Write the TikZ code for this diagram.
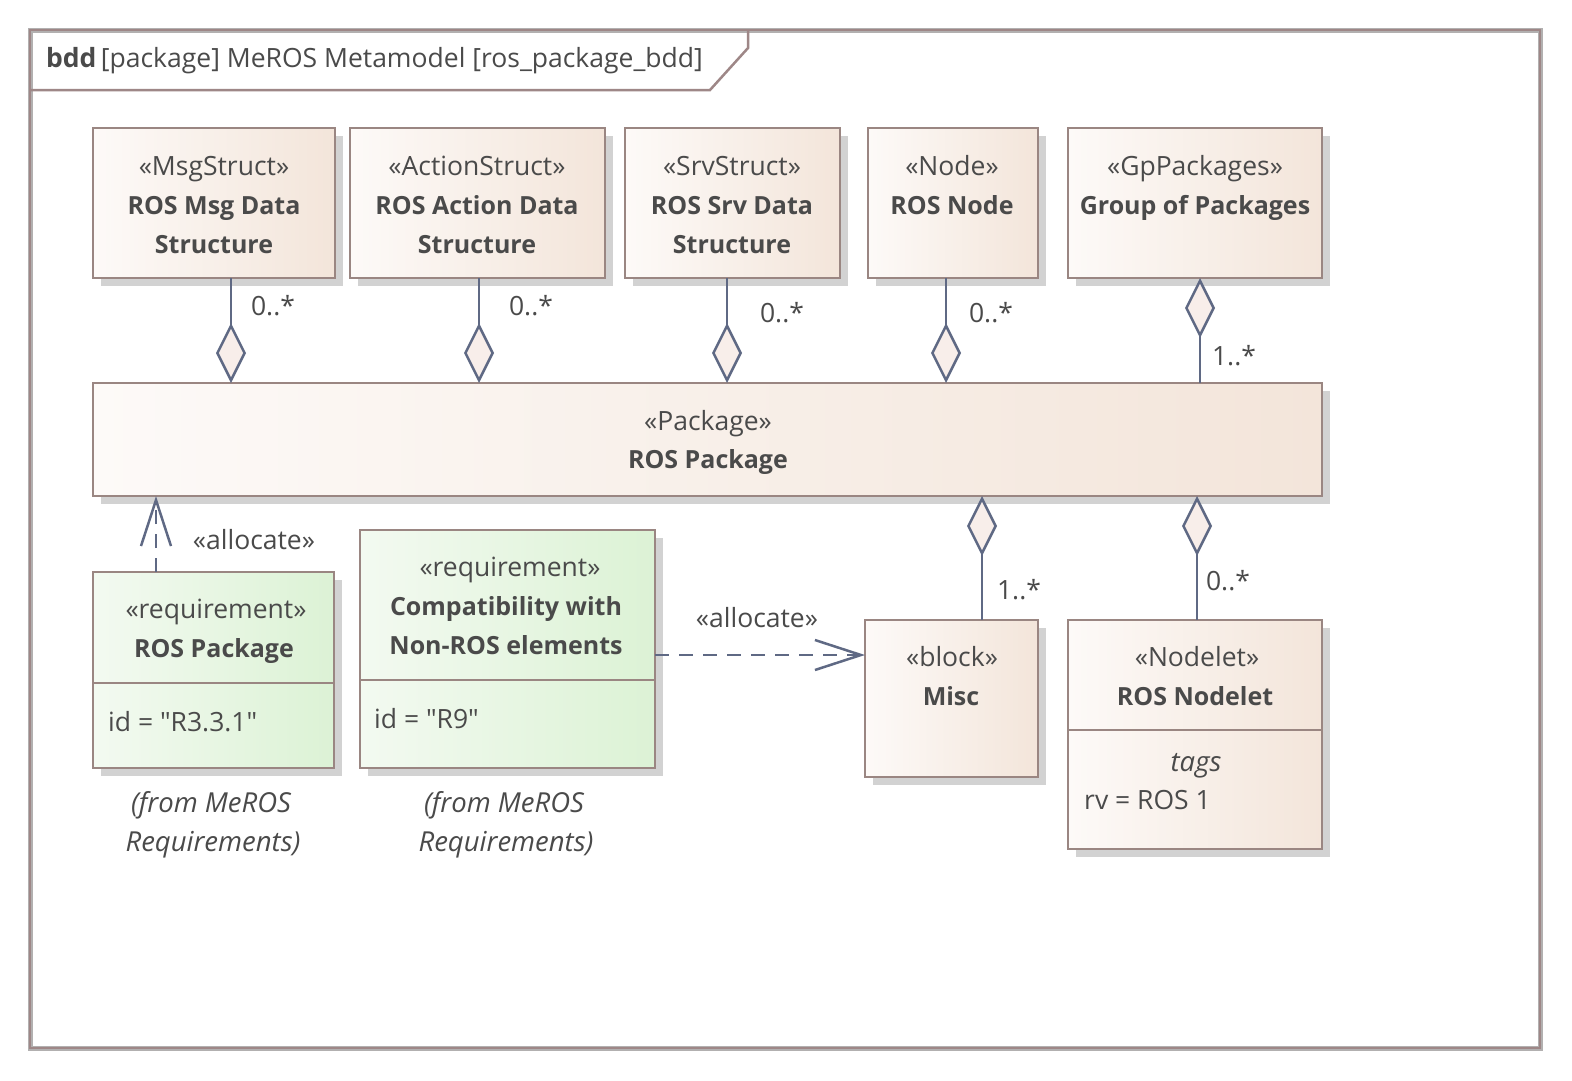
\documentclass[tikz,border=0pt]{standalone}
\usepackage{fontspec}
\setmainfont{Open Sans}
\usetikzlibrary{shadows,arrows.meta}
\definecolor{bordc}{HTML}{9A8682}
\definecolor{framec}{HTML}{9E8787}
\definecolor{frameg}{HTML}{B2B0B0}
\definecolor{connc}{HTML}{5F6984}
\definecolor{txtc}{HTML}{4A4A4A}
\definecolor{begl}{HTML}{FDFAF8}
\definecolor{begr}{HTML}{F3E5DA}
\definecolor{grl}{HTML}{F3FAF1}
\definecolor{grr}{HTML}{DCF2D5}
\definecolor{dfill}{HTML}{F8EEEA}
\definecolor{shadc}{HTML}{D2D2D2}
\begin{document}
\begin{tikzpicture}[x=1pt,y=-1pt,
  box/.style={draw=bordc, line width=2.5pt, left color=begl, right color=begr,
    drop shadow={shadow xshift=8pt, shadow yshift=-8pt, fill=shadc, opacity=1},
    inner sep=0pt, outer sep=0pt, anchor=north west},
  gbox/.style={box, left color=grl, right color=grr},
  txt/.style={font=\fontsize{26.5}{30}\selectfont, text=txtc, inner sep=0pt, anchor=base},
  btxt/.style={txt, font=\fontsize{25}{30}\selectfont\bfseries},
  itxt/.style={txt, font=\fontsize{27.5}{30}\selectfont\itshape},
  conn/.style={draw=connc, line width=2.5pt},
  agg/.style={conn, -{Diamond[length=60pt,width=30pt,fill=dfill,line join=miter]}},
  aggs/.style={conn, {Diamond[length=60pt,width=30pt,fill=dfill,line join=miter]}-},
  alloc/.style={conn, dash pattern=on 14pt off 10pt, -{Straight Barb[length=46pt,width=30pt,line width=2.5pt]}},
  cline/.style={draw=bordc, line width=2.5pt}
]
\fill[white] (0,0) rectangle (1572,1080);
% frame
\draw[frameg, line width=5pt] (30,30) rectangle (1540,1048);
\draw[framec, line width=2.5pt] (30,30) rectangle (1540,1048);
\draw[framec, line width=2.5pt] (31,90) -- (710,90) -- (748,48) -- (748,31);
\node[txt, anchor=base west] (title) at (46,67) {\textbf{bdd}\,[package] MeROS Metamodel [ros\_package\_bdd]};

% top boxes
\node[box, minimum width=242pt, minimum height=150pt] (msg) at (93,128) {};
\node[txt] (msgs) at (214,175) {«MsgStruct»};
\node[btxt] (msgn1) at (214,214) {ROS Msg Data};
\node[btxt] (msgn2) at (214,253) {Structure};

\node[box, minimum width=255pt, minimum height=150pt] (act) at (350,128) {};
\node[txt] (acts) at (477,175) {«ActionStruct»};
\node[btxt] (actn1) at (477,214) {ROS Action Data};
\node[btxt] (actn2) at (477,253) {Structure};

\node[box, minimum width=215pt, minimum height=150pt] (srv) at (625,128) {};
\node[txt] (srvs) at (732,175) {«SrvStruct»};
\node[btxt] (srvn1) at (732,214) {ROS Srv Data};
\node[btxt] (srvn2) at (732,253) {Structure};

\node[box, minimum width=170pt, minimum height=150pt] (rnode) at (868,128) {};
\node[txt] (rnodes) at (952,175) {«Node»};
\node[btxt] (rnoden) at (952,214) {ROS Node};

\node[box, minimum width=254pt, minimum height=150pt] (gp) at (1068,128) {};
\node[txt] (gps) at (1195,175) {«GpPackages»};
\node[btxt] (gpn) at (1195,214) {Group of Packages};

% package
\node[box, minimum width=1229pt, minimum height=113pt] (pkg) at (93,383) {};
\node[txt] (pkgs) at (708,430) {«Package»};
\node[btxt] (pkgn) at (708,468) {ROS Package};

% requirement 1
\node[gbox, minimum width=241pt, minimum height=196pt] (req1) at (93,572) {};
\draw[cline] (93,683) -- (334,683);
\node[txt] (req1s) at (216,618) {«requirement»};
\node[btxt] (req1n) at (214,657) {ROS Package};
\node[txt, anchor=base west] (req1id) at (108,731) {id = \textquotedbl R3.3.1\textquotedbl};
\node[itxt] (req1f1) at (211,812) {(from MeROS};
\node[itxt] (req1f2) at (213,851) {Requirements)};

% requirement 2
\node[gbox, minimum width=295pt, minimum height=238pt] (req2) at (360,530) {};
\draw[cline] (360,680) -- (655,680);
\node[txt] (req2s) at (510,576) {«requirement»};
\node[btxt] (req2n1) at (506,615) {Compatibility with};
\node[btxt] (req2n2) at (506,654) {Non-ROS elements};
\node[txt, anchor=base west] (req2id) at (374,728) {id = \textquotedbl R9\textquotedbl};
\node[itxt] (req2f1) at (504,812) {(from MeROS};
\node[itxt] (req2f2) at (506,851) {Requirements)};

% misc
\node[box, minimum width=173pt, minimum height=157pt] (misc) at (865,620) {};
\node[txt] (miscs) at (952,666) {«block»};
\node[btxt] (miscn) at (951,705) {Misc};

% nodelet
\node[box, minimum width=254pt, minimum height=229pt] (nlet) at (1068,620) {};
\draw[cline] (1068,730) -- (1322,730);
\node[txt] (nlets) at (1197,666) {«Nodelet»};
\node[btxt] (nletn) at (1195,705) {ROS Nodelet};
\node[itxt] (nlett) at (1196,771) {tags};
\node[txt, anchor=base west] (nletrv) at (1084,809) {rv = ROS 1};

% connector x positions
\coordinate (c1) at (231,0);
\coordinate (c2) at (479,0);
\coordinate (c3) at (727,0);
\coordinate (c4) at (946,0);
\coordinate (c5) at (1200,0);
\coordinate (c6) at (982,0);
\coordinate (c7) at (1197,0);
\coordinate (c8) at (156,0);
\coordinate (c9) at (0,655);

\draw[agg] (msg.south -| c1) -- (pkg.north -| c1);
\draw[agg] (act.south -| c2) -- (pkg.north -| c2);
\draw[agg] (srv.south -| c3) -- (pkg.north -| c3);
\draw[agg] (rnode.south -| c4) -- (pkg.north -| c4);
\draw[aggs] (gp.south -| c5) -- (pkg.north -| c5);
\draw[agg] (misc.north -| c6) -- (pkg.south -| c6);
\draw[agg] (nlet.north -| c7) -- (pkg.south -| c7);

\node[txt] (m1) at (273,315) {0..*};
\node[txt] (m2) at (531,315) {0..*};
\node[txt] (m3) at (782,322) {0..*};
\node[txt] (m4) at (991,322) {0..*};
\node[txt] (m5) at (1234,365) {1..*};
\node[txt] (m6) at (1019,599) {1..*};
\node[txt] (m7) at (1228,590) {0..*};

\draw[alloc] (req1.north -| c8) -- (pkg.south -| c8);
\node[txt] (al1) at (254,549) {«allocate»};
\draw[alloc] (req2.east |- c9) -- (misc.west |- c9);
\node[txt] (al2) at (757,627) {«allocate»};
\end{tikzpicture}
\end{document}
